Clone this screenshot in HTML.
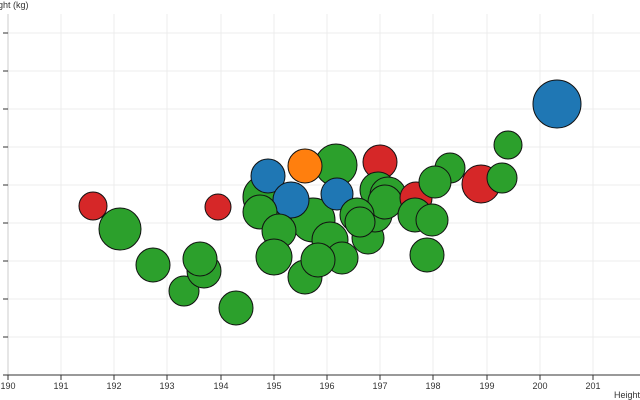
<!DOCTYPE html>
<html><head><style>body{margin:0;background:#fff}svg{display:block;font-family:"Liberation Sans",sans-serif}</style></head><body>
<svg width="640" height="400" xmlns="http://www.w3.org/2000/svg">
<g stroke="#ececec" stroke-width="1">
<line x1="8" y1="33" x2="640" y2="33"/><line x1="8" y1="71" x2="640" y2="71"/><line x1="8" y1="109" x2="640" y2="109"/><line x1="8" y1="147" x2="640" y2="147"/><line x1="8" y1="185" x2="640" y2="185"/><line x1="8" y1="223" x2="640" y2="223"/><line x1="8" y1="261" x2="640" y2="261"/><line x1="8" y1="299" x2="640" y2="299"/><line x1="8" y1="337" x2="640" y2="337"/>
<line x1="61" y1="14" x2="61" y2="375"/><line x1="114" y1="14" x2="114" y2="375"/><line x1="167" y1="14" x2="167" y2="375"/><line x1="221" y1="14" x2="221" y2="375"/><line x1="274" y1="14" x2="274" y2="375"/><line x1="327" y1="14" x2="327" y2="375"/><line x1="380" y1="14" x2="380" y2="375"/><line x1="433" y1="14" x2="433" y2="375"/><line x1="487" y1="14" x2="487" y2="375"/><line x1="540" y1="14" x2="540" y2="375"/><line x1="593" y1="14" x2="593" y2="375"/>
</g>
<line x1="8" y1="14" x2="8" y2="375" stroke="#ccc"/>
<g stroke="#333" stroke-width="1">
<line x1="8" y1="375" x2="640" y2="375"/>
<line x1="3" y1="33" x2="8" y2="33"/><line x1="3" y1="71" x2="8" y2="71"/><line x1="3" y1="109" x2="8" y2="109"/><line x1="3" y1="147" x2="8" y2="147"/><line x1="3" y1="185" x2="8" y2="185"/><line x1="3" y1="223" x2="8" y2="223"/><line x1="3" y1="261" x2="8" y2="261"/><line x1="3" y1="299" x2="8" y2="299"/><line x1="3" y1="337" x2="8" y2="337"/><line x1="3" y1="375" x2="8" y2="375"/>
<line x1="8" y1="375" x2="8" y2="380"/><line x1="61" y1="375" x2="61" y2="380"/><line x1="114" y1="375" x2="114" y2="380"/><line x1="167" y1="375" x2="167" y2="380"/><line x1="221" y1="375" x2="221" y2="380"/><line x1="274" y1="375" x2="274" y2="380"/><line x1="327" y1="375" x2="327" y2="380"/><line x1="380" y1="375" x2="380" y2="380"/><line x1="433" y1="375" x2="433" y2="380"/><line x1="487" y1="375" x2="487" y2="380"/><line x1="540" y1="375" x2="540" y2="380"/><line x1="593" y1="375" x2="593" y2="380"/>
</g>
<g font-size="9" fill="#333" text-anchor="middle">
<text x="8" y="389">190</text><text x="61" y="389">191</text><text x="114" y="389">192</text><text x="167" y="389">193</text><text x="221" y="389">194</text><text x="274" y="389">195</text><text x="327" y="389">196</text><text x="380" y="389">197</text><text x="433" y="389">198</text><text x="487" y="389">199</text><text x="540" y="389">200</text><text x="593" y="389">201</text>
</g>
<text x="-2" y="8" font-size="9" fill="#333">ght (kg)</text>
<text x="614" y="398" font-size="9" fill="#333">Height (</text>
<g stroke="#111" stroke-width="1">
<circle cx="93" cy="206" r="14" fill="#d62728"/>
<circle cx="120" cy="229" r="21" fill="#2ca02c"/>
<circle cx="153" cy="265" r="17" fill="#2ca02c"/>
<circle cx="184" cy="291" r="15" fill="#2ca02c"/>
<circle cx="204" cy="271" r="17" fill="#2ca02c"/>
<circle cx="200" cy="259" r="17" fill="#2ca02c"/>
<circle cx="218" cy="207" r="13" fill="#d62728"/>
<circle cx="236" cy="308" r="17" fill="#2ca02c"/>
<circle cx="265" cy="197" r="22" fill="#2ca02c"/>
<circle cx="336" cy="165" r="21" fill="#2ca02c"/>
<circle cx="313" cy="220" r="22" fill="#2ca02c"/>
<circle cx="268" cy="176" r="17" fill="#1f77b4"/>
<circle cx="291" cy="200" r="18" fill="#1f77b4"/>
<circle cx="305" cy="166" r="17" fill="#ff7f0e"/>
<circle cx="260" cy="212" r="17" fill="#2ca02c"/>
<circle cx="279" cy="231" r="17" fill="#2ca02c"/>
<circle cx="274" cy="257" r="18" fill="#2ca02c"/>
<circle cx="330" cy="240" r="18" fill="#2ca02c"/>
<circle cx="305" cy="277" r="17" fill="#2ca02c"/>
<circle cx="337" cy="194" r="16" fill="#1f77b4"/>
<circle cx="380" cy="162" r="17" fill="#d62728"/>
<circle cx="368" cy="238" r="16" fill="#2ca02c"/>
<circle cx="342" cy="258" r="16" fill="#2ca02c"/>
<circle cx="318" cy="260" r="17" fill="#2ca02c"/>
<circle cx="375" cy="215" r="17" fill="#2ca02c"/>
<circle cx="378" cy="190" r="18" fill="#2ca02c"/>
<circle cx="388" cy="195" r="18" fill="#2ca02c"/>
<circle cx="385" cy="202" r="17" fill="#2ca02c"/>
<circle cx="357" cy="215" r="17" fill="#2ca02c"/>
<circle cx="360" cy="222" r="15" fill="#2ca02c"/>
<circle cx="416" cy="198" r="16" fill="#d62728"/>
<circle cx="415" cy="215" r="17" fill="#2ca02c"/>
<circle cx="432" cy="220" r="16" fill="#2ca02c"/>
<circle cx="427" cy="255" r="17" fill="#2ca02c"/>
<circle cx="450" cy="168" r="15" fill="#2ca02c"/>
<circle cx="435" cy="182" r="16" fill="#2ca02c"/>
<circle cx="481" cy="184" r="19" fill="#d62728"/>
<circle cx="508" cy="145" r="14" fill="#2ca02c"/>
<circle cx="502" cy="178" r="15" fill="#2ca02c"/>
<circle cx="557" cy="104" r="24" fill="#1f77b4"/>
</g>
</svg>
</body></html>
